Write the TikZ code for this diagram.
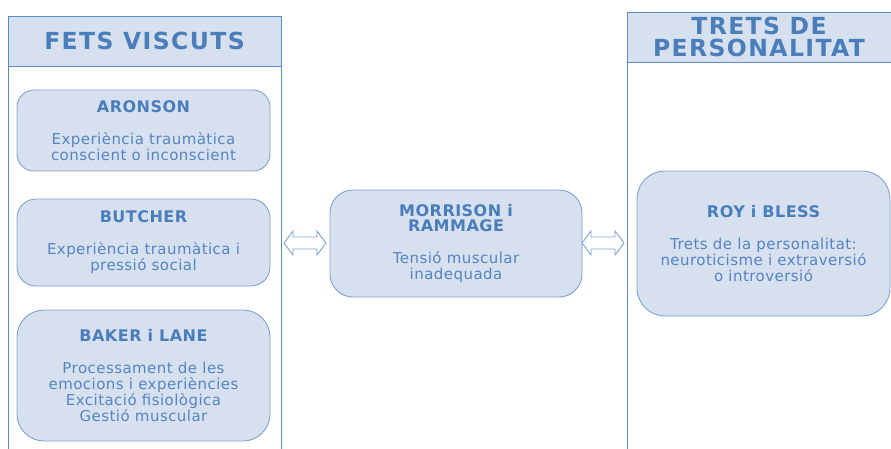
\documentclass[tikz,border=0pt]{standalone}
\usepackage{fontspec}
\setmainfont{DejaVu Sans}[LetterSpace=3]
\definecolor{panelline}{HTML}{5B8BC9}
\definecolor{boxline}{HTML}{7FA3D0}
\definecolor{boxfill}{HTML}{D6E0EF}
\definecolor{titleblue}{HTML}{4A7EBB}
\definecolor{bodyblue}{HTML}{5585C2}
\newcommand{\cardhead}[1]{{\fontsize{16}{16}\selectfont\bfseries\addfontfeatures{LetterSpace=3}\color{titleblue}#1}}
\tikzset{
  panel/.style={draw=panelline, line width=0.9pt},
  panelhead/.style={draw=panelline, fill=boxfill, line width=0.9pt},
  headtext/.style={font=\fontsize{23.5}{22}\selectfont\bfseries\addfontfeatures{LetterSpace=6}, text=titleblue, align=center},
  card/.style={draw=boxline, fill=boxfill, line width=0.9pt, align=center,
    text=bodyblue, font=\fontsize{15}{16}\selectfont, inner sep=0pt},
  linkarrow/.style={draw=boxline, fill=white, line width=0.9pt, line join=miter},
  pics/twoway/.style={code={
    \draw[linkarrow] (-21,0) -- (-12,-12) -- (-12,-6) -- (12,-6) -- (12,-12) -- (21,0)
      -- (12,12) -- (12,6) -- (-12,6) -- (-12,12) -- cycle;}}
}
\begin{document}
\begin{tikzpicture}[x=1pt,y=-1pt]
\useasboundingbox (0,0) rectangle (891,448);
\clip (0,0) rectangle (891,448);

% left column: lived events
\draw[panel] (8,452) -- (8,16) -- (281,16) -- (281,452);
\draw[panelhead] (8,16) rectangle (281,66);
\node[headtext] (hleft) at (144.5,41) {FETS VISCUTS};

% right column: personality traits
\draw[panel] (627,452) -- (627,12) -- (895,12);
\draw[panelhead] (627,12) rectangle (895,62);
\node[headtext] (hright) at (759,37) {TRETS DE\\PERSONALITAT};

% cards
\node[card, rounded corners=17, minimum width=253, minimum height=81] (aronson) at (143.5,130.5)
  {\cardhead{ARONSON}\\[16pt] Experiència traumàtica\\ conscient o inconscient};
\node[card, rounded corners=19, minimum width=253, minimum height=87] (butcher) at (143.5,242.5)
  {\cardhead{BUTCHER}\\[16pt] Experiència traumàtica i\\ pressió social};
\node[card, rounded corners=27, minimum width=253, minimum height=131] (baker) at (143.5,375.5)
  {\cardhead{BAKER i LANE}\\[16pt] Processament de les\\ emocions i experiències\\ Excitació fisiològica\\ Gestió muscular};
\node[card, rounded corners=23, minimum width=252, minimum height=107] (morrison) at (456,243.5)
  {\cardhead{MORRISON i}\\[-1pt] \cardhead{RAMMAGE}\\[16pt] Tensió muscular\\ inadequada};
\node[card, rounded corners=28, minimum width=253, minimum height=145] (roy) at (763.5,243.5)
  {\cardhead{ROY i BLESS}\\[16pt] Trets de la personalitat:\\ neuroticisme i extraversió\\ o introversió};

% two-way links between the columns and the central card
\coordinate (lnk1) at (305,243);
\coordinate (lnk2) at (603,243);
\pic at (lnk1) {twoway};
\pic at (lnk2) {twoway};
\end{tikzpicture}
\end{document}
